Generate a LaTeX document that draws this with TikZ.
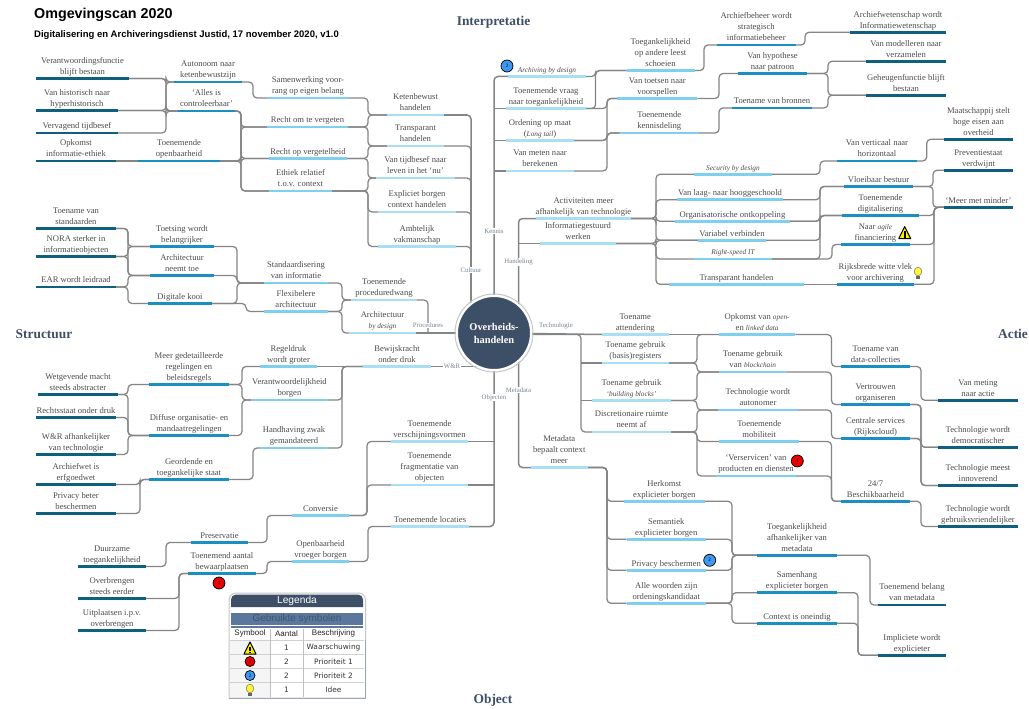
\documentclass[tikz,border=0pt]{standalone}
\usepackage{fontspec}
\setmainfont{Liberation Serif}
\newfontfamily\arial{Liberation Sans}
\newfontfamily\dejavu{DejaVu Sans}
\usetikzlibrary{backgrounds,calc}
\definecolor{ldark}{HTML}{0F5F7F}
\definecolor{lmid}{HTML}{1A8FC0}
\definecolor{llight}{HTML}{7FCFF0}
\definecolor{lpale}{HTML}{A8DFF5}
\definecolor{slate}{HTML}{3C4F66}
\definecolor{legblue}{HTML}{5C779C}
\definecolor{branch}{HTML}{858585}
\definecolor{markblue}{HTML}{3E97F0}
\definecolor{markred}{HTML}{E80000}
\tikzset{
  bar/.style={rectangle,inner sep=0pt,outer sep=0pt,minimum height=2.8pt},
  bdark/.style={bar,fill=ldark},
  bmid/.style={bar,fill=lmid},
  blight/.style={bar,fill=llight},
  bpale/.style={bar,fill=lpale},
  lbl/.style={align=center,inner sep=0.5pt,text depth=2pt,text=black!70,font=\fontsize{8.6}{11}\selectfont},
  conn/.style={draw=branch,line width=1.25pt,rounded corners=4pt},
  trunk/.style={draw=branch,line width=1.5pt,rounded corners=4pt},
  tag/.style={fill=white,inner sep=0.5pt,text=slate!70,font=\fontsize{6.8}{8}\selectfont},
  heading/.style={text=slate,font=\fontsize{13.4}{15}\selectfont\bfseries},
  redmark/.style={circle,draw=black,line width=0.7pt,fill=markred,minimum size=12pt,inner sep=0pt,font=\fontsize{5}{6}\selectfont},
  bluemark/.style={circle,draw=black,line width=0.7pt,fill=markblue,minimum size=12pt,inner sep=0pt,font=\fontsize{5}{6}\selectfont},
  legcell/.style={rectangle,inner sep=0pt,font=\dejavu\fontsize{7.4}{9}\selectfont,text=black!80},
  leghead/.style={rectangle,inner sep=0pt,font=\arial\fontsize{8}{10}\selectfont,text=black!85},
}
\newcommand\itl[1]{{\fontsize{7.3}{11}\selectfont\itshape #1}}
\newcommand\topic[6]{%
  \pgfmathsetmacro\tw{#3-#2}\pgfmathsetmacro\tc{(#2+#3)/2}%
  \node[#5,minimum width=\tw pt] (#1) at (\tc,#4) {};
  \node[lbl,anchor=south] (#1-t) at (#1.north) {#6};
}
\newcommand\lnk[3]{\draw[conn] (#1.east) -- (#3,0 |- #1.east) -- (#3,0 |- #2.west) -- (#2.west);}
\newcommand\straight[2]{\draw[conn] (#1.east) -- (#2.west);}
\newcommand\warnicon[2]{%
  \begin{scope}[shift={(#1,#2)}]
    \draw[fill=yellow!95!orange,draw=black,line width=1pt,line join=round] (-6,6) -- (0,-6) -- (6,6) -- cycle;
    \fill[black] (-0.9,-1.5) rectangle (0.9,2.8);
    \fill[black] (-0.9,3.6) rectangle (0.9,5);
  \end{scope}}
\newcommand\bulbicon[2]{%
  \begin{scope}[shift={(#1,#2)}]
    \fill[black!60] (-1.6,2.5) rectangle (1.6,6);
    \draw[fill=yellow!80!white,draw=black!55,line width=0.5pt] (0,-1.5) ellipse (3.8 and 4.4);
  \end{scope}}
\begin{document}
\begin{tikzpicture}[x=1pt,y=-1pt]
\begin{scope}[on background layer]
  \fill[white] (0,0) rectangle (1029,709);
\end{scope}
\useasboundingbox (0,0) rectangle (1029,709);

% Title
\node[anchor=west,inner sep=0pt,font=\arial\bfseries\fontsize{14.3}{16}\selectfont] (title) at (34,14.5) {Omgevingscan 2020};
\node[anchor=west,inner sep=0pt,font=\arial\bfseries\fontsize{9.5}{11}\selectfont] (subtitle) at (34,35) {Digitalisering en Archiveringsdienst Justid, 17 november 2020, v1.0};
\node[heading] (hI) at (493.5,22.5) {Interpretatie};
\node[heading] (hS) at (44,334) {Structuur};
\node[heading] (hA) at (1013,334) {Actie};
\node[heading] (hO) at (493,700) {Object};

% Centre
\node[circle,fill=slate,draw=white,line width=2pt,minimum size=74pt,inner sep=0pt,align=center,text=white,font=\fontsize{10.4}{13}\selectfont\bfseries] (c) at (494,333) {Overheids-\\handelen};
\node[circle,draw=gray!45,line width=1pt,minimum size=78pt,inner sep=0pt] (cring) at (494,333) {};

% ---- upper left: Cultuur
\topic{verant}{36}{129}{78.5}{bdark}{Verantwoordingsfunctie\\blijft bestaan}
\topic{hyper}{36}{118}{110.5}{bdark}{Van historisch naar\\hyperhistorisch}
\topic{vervag}{36}{118}{133}{bdark}{Vervagend tijdbesef}
\topic{opkomst}{36}{116}{161}{bdark}{Opkomst\\informatie-ethiek}
\topic{autonoom}{174}{242}{82}{bmid}{Autonoom naar\\ketenbewustzijn}
\topic{alles}{178}{235}{111}{bmid}{‘Alles is\\controleerbaar’}
\topic{openb}{138}{220}{161}{bmid}{Toenemende\\openbaarheid}
\topic{samenw}{267}{349}{98}{blight}{Samenwerking voor-\\rang op eigen belang}
\topic{rechtom}{267}{348}{127}{blight}{Recht om te vergeten}
\topic{rechtop}{269}{347}{158.5}{blight}{Recht op vergetelheid}
\topic{ethiek}{269}{332}{191}{blight}{Ethiek relatief\\t.o.v. context}
\topic{keten}{387}{444}{115}{bpale}{Ketenbewust\\handelen}
\topic{transp}{387}{444}{146}{bpale}{Transparant\\handelen}
\topic{tijdb}{376}{455}{178}{bpale}{Van tijdbesef naar\\leven in het ‘nu’}
\topic{explic}{378}{456}{212}{bpale}{Expliciet borgen\\context handelen}
\topic{ambt}{378}{456}{246.5}{bpale}{Ambtelijk\\vakmanschap}

% ---- left: Procedures
\topic{toename}{36}{116}{228.5}{bdark}{Toename van\\standaarden}
\topic{nora}{36}{116}{256.5}{bdark}{NORA sterker in\\informatieobjecten}
\topic{ear}{36}{116}{287}{bdark}{EAR wordt leidraad}
\topic{toets}{150}{214}{246.5}{bmid}{Toetsing wordt\\belangrijker}
\topic{archt}{150}{214}{275.5}{bmid}{Architectuur\\neemt toe}
\topic{kooi}{148}{212}{303.5}{bmid}{Digitale kooi}
\topic{stand}{264}{328}{283}{blight}{Standaardisering\\van informatie}
\topic{flex}{264}{328}{311.5}{blight}{Flexibelere\\architectuur}
\topic{proc}{351}{417}{300}{bpale}{Toenemende\\proceduredwang}
\topic{archd}{349}{416}{333}{bpale}{Architectuur\\\itl{by design}}

% ---- lower left: W&R
\topic{wetg}{38}{118}{394.5}{bdark}{Wetgevende macht\\steeds abstracter}
\topic{rstaat}{36}{116}{417.5}{bdark}{Rechtsstaat onder druk}
\topic{wr}{36}{116}{454.5}{bdark}{W\&R afhankelijker\\van technologie}
\topic{archw}{36}{116}{484.5}{bdark}{Archiefwet is\\erfgoedwet}
\topic{priv}{36}{116}{513.5}{bdark}{Privacy beter\\beschermen}
\topic{meer}{149}{229}{384.5}{bmid}{Meer gedetailleerde\\regelingen en\\beleidsregels}
\topic{diff}{149}{229}{435.5}{bmid}{Diffuse organisatie- en\\mandaatregelingen}
\topic{geord}{149}{229}{479.5}{bmid}{Geordende en\\toegankelijke staat}
\topic{regel}{260}{317}{366.5}{blight}{Regeldruk\\wordt groter}
\topic{veran}{251}{328}{400}{blight}{Verantwoordelijkheid\\borgen}
\topic{handh}{260}{328}{448}{blight}{Handhaving zwak\\gemandateerd}
\topic{bewijs}{363}{431}{366.5}{bpale}{Bewijskracht\\onder druk}

% ---- bottom left: Objecten
\topic{duurz}{78}{146}{566.5}{bdark}{Duurzame\\toegankelijkheid}
\topic{overb}{78}{146}{598.5}{bdark}{Overbrengen\\steeds eerder}
\topic{uitpl}{78}{146}{630.5}{bdark}{Uitplaatsen i.p.v.\\overbrengen}
\topic{pres}{191}{248}{542.5}{bmid}{Preservatie}
\topic{bewaar}{188}{256}{573.5}{bmid}{Toenemend aantal\\bewaarplaatsen}
\topic{conv}{292}{349}{515.5}{blight}{Conversie}
\topic{vroeg}{292}{349}{561.5}{blight}{Openbaarheid\\vroeger borgen}
\topic{versch}{391}{468}{441.5}{bpale}{Toenemende\\verschijningsvormen}
\topic{fragm}{391}{468}{485}{bpale}{Toenemende\\fragmentatie van\\objecten}
\topic{locat}{391}{469}{526.5}{bpale}{Toenemende locaties}

% ---- upper right: Kennis
\topic{archd2}{508}{586}{76.5}{bpale}{\itl{Archiving by design}}
\topic{vraag}{506}{586}{108.5}{bpale}{Toenemende vraag\\naar toegankelijkheid}
\topic{orden}{506}{574}{140.5}{bpale}{Ordening op maat\\(\itl{Long tail})}
\topic{meten}{506}{574}{171}{bpale}{Van meten naar\\berekenen}
\topic{leest}{626.5}{694.5}{70.5}{blight}{Toegankelijkheid\\op andere leest\\schoeien}
\topic{voorsp}{617.4}{697.3}{98.5}{blight}{Van toetsen naar\\voorspellen}
\topic{kennis}{619.5}{699}{133}{blight}{Toenemende\\kennisdeling}
\topic{beheer}{717}{795.5}{45}{bmid}{Archiefbeheer wordt\\strategisch\\informatiebeheer}
\topic{hypo}{738}{807}{73.5}{bmid}{Van hypothese\\naar patroon}
\topic{bronn}{732}{812}{108}{bmid}{Toename van bronnen}
\topic{infow}{850}{946}{32.3}{bdark}{Archiefwetenschap wordt\\Informatiewetenschap}
\topic{model}{866}{946}{61.3}{bdark}{Van modelleren naar\\verzamelen}
\topic{geheug}{866}{946}{95.3}{bdark}{Geheugenfunctie blijft\\bestaan}

% ---- right: Handeling
\topic{activ}{536}{631}{218.5}{bpale}{Activiteiten meer\\afhankelijk van technologie}
\topic{infog}{540}{616}{243.5}{bpale}{Informatiegestuurd\\werken}
\topic{secur}{694}{772}{174.3}{blight}{\itl{Security by design}}
\topic{laag}{677}{783}{199.7}{blight}{Van laag- naar hooggeschoold}
\topic{ontk}{675}{790}{221.3}{blight}{Organisatorische ontkoppeling}
\topic{varb}{698}{766}{240.3}{blight}{Variabel verbinden}
\topic{rspeed}{694}{772}{259}{blight}{\itl{Right-speed IT}}
\topic{transh}{669}{804}{284.3}{blight}{Transparant handelen}
\topic{vertic}{837}{917}{161}{bmid}{Van verticaal naar\\horizontaal}
\topic{vloei}{844}{913}{186.5}{bmid}{Vloeibaar bestuur}
\topic{digit}{842}{919}{215.5}{bmid}{Toenemende\\digitalisering}
\topic{agile}{841}{910}{244.5}{bmid}{Naar \itl{agile}\\financiering}
\topic{rijks}{837}{914}{284.3}{bmid}{Rijksbrede witte vlek\\voor archivering}
\topic{maats}{944}{1013}{139.3}{bdark}{Maatschappij stelt\\hoge eisen aan\\overheid}
\topic{prevent}{944}{1013}{170.3}{bdark}{Preventiestaat\\verdwijnt}
\topic{minder}{944}{1013}{207.3}{bdark}{‘Meer met minder’}

% ---- lower right: Technologie
\topic{attend}{602}{668.5}{334.5}{bpale}{Toename\\attendering}
\topic{regist}{602}{669}{363}{bpale}{Toename gebruik\\(basis)registers}
\topic{build}{592}{671}{400.5}{bpale}{Toename gebruik\\\itl{‘building blocks’}}
\topic{discr}{592}{671}{432}{bpale}{Discretionaire ruimte\\neemt af}
\topic{linked}{719}{795.3}{334.5}{blight}{Opkomst van \itl{open-}\\en \itl{linked data}}
\topic{block}{719}{786.5}{372}{blight}{Toename gebruik\\van \itl{blockchain}}
\topic{auton}{718}{798}{410}{blight}{Technologie wordt\\autonomer}
\topic{mobil}{719.4}{799}{441.5}{blight}{Toenemende\\mobiliteit}
\topic{servic}{716}{796}{476}{blight}{‘Verservicen’ van\\producten en diensten}
\topic{datac}{841.3}{910}{366.5}{bmid}{Toename van\\data-collecties}
\topic{vertr}{841.3}{910}{404.5}{bmid}{Vertrouwen\\organiseren}
\topic{centr}{841}{910}{438.5}{bmid}{Centrale services\\(Rijkscloud)}
\topic{beschik}{841}{910}{501.3}{bmid}{24/7\\Beschikbaarheid}
\topic{actie}{938}{1018}{400.3}{bdark}{Van meting\\naar actie}
\topic{democ}{938}{1018}{447.3}{bdark}{Technologie wordt\\democratischer}
\topic{innov}{938}{1018}{485.5}{bdark}{Technologie meest\\innoverend}
\topic{gebr}{938}{1018}{526.5}{bdark}{Technologie wordt\\gebruiksvriendelijker}

% ---- lower right: Metadata
\topic{metad}{531}{587.5}{467.5}{bpale}{Metadata\\bepaalt context\\meer}
\topic{herk}{624}{704.6}{501.3}{blight}{Herkomst\\explicieter borgen}
\topic{seman}{626.5}{706}{539.3}{blight}{Semantiek\\explicieter borgen}
\topic{privb}{626.5}{706}{570.3}{blight}{Privacy beschermen}
\topic{woord}{626.5}{706}{603.3}{blight}{Alle woorden zijn\\ordeningskandidaat}
\topic{afhank}{757}{837}{555.3}{bmid}{Toegankelijkheid\\afhankelijker van\\metadata}
\topic{samenh}{757}{837}{592.7}{bmid}{Samenhang\\explicieter borgen}
\topic{oneind}{757}{837}{623.3}{bmid}{Context is oneindig}
\topic{belang}{878}{946}{605}{bdark}{Toenemend belang\\van metadata}
\topic{implic}{878}{946}{655.3}{bdark}{Impliciete wordt\\explicieter}

% ---- connectors
\begin{scope}[on background layer]
  % Cultuur
  \lnk{verant}{autonoom}{166}\lnk{verant}{alles}{166}\lnk{hyper}{autonoom}{166}\lnk{hyper}{alles}{166}\lnk{vervag}{alles}{166}
  \straight{opkomst}{openb}
  \lnk{autonoom}{samenw}{253}
  \lnk{alles}{rechtom}{241}\lnk{alles}{rechtop}{241}\lnk{alles}{ethiek}{241}
  \lnk{openb}{rechtom}{241}\lnk{openb}{rechtop}{241}\lnk{openb}{ethiek}{241}
  \lnk{samenw}{keten}{368}\lnk{rechtom}{keten}{368}\lnk{rechtom}{transp}{368}
  \lnk{rechtop}{transp}{368}\lnk{rechtop}{tijdb}{368}
  \lnk{ethiek}{tijdb}{368}\lnk{ethiek}{explic}{368}\lnk{ethiek}{ambt}{368}
  \draw[trunk] (keten.east) -- (471,0 |- keten.east) -- ([xshift=-23pt]c.center);
  \lnk{transp}{cring}{471}\lnk{tijdb}{cring}{471}\lnk{explic}{cring}{471}\lnk{ambt}{cring}{471}
  % Procedures
  \lnk{toename}{toets}{128}\lnk{toename}{archt}{128}\lnk{nora}{toets}{128}\lnk{nora}{archt}{128}
  \lnk{ear}{archt}{128}\lnk{ear}{kooi}{128}
  \lnk{toets}{stand}{237}\lnk{archt}{stand}{237}\lnk{kooi}{stand}{237}\lnk{kooi}{flex}{246}
  \lnk{stand}{proc}{342}\lnk{flex}{proc}{342}\lnk{flex}{archd}{342}
  \draw[conn] (proc.east) -- (428,0 |- proc.east) -- (428,0 |- archd.east);
  \draw[trunk] (archd.east) -- (c.center);
  % W&R
  \lnk{wetg}{meer}{128}\lnk{wetg}{diff}{128}\lnk{rstaat}{diff}{128}\lnk{wr}{diff}{128}
  \lnk{meer}{regel}{242}\lnk{meer}{veran}{242}\lnk{diff}{veran}{242}
  \straight{regel}{bewijs}
  \lnk{veran}{bewijs}{342}\lnk{handh}{bewijs}{342}
  \lnk{archw}{geord}{140}\lnk{priv}{geord}{140}
  \lnk{geord}{handh}{253}
  \draw[conn] (bewijs.east) -- (c.center |- bewijs.east);
  % Objecten
  \lnk{duurz}{pres}{166}\lnk{pres}{conv}{267}
  \lnk{conv}{versch}{367}\lnk{conv}{fragm}{367}
  \lnk{overb}{bewaar}{179}\lnk{uitpl}{bewaar}{179}
  \lnk{bewaar}{vroeg}{267}\lnk{vroeg}{locat}{368}
  \draw[trunk] (locat.east) -- (c.center |- locat.east) -- (c.center);
  \draw[conn] (versch.east) -- (c.center |- versch.east);
  \draw[conn] (fragm.east) -- (c.center |- fragm.east);
  % Kennis
  \draw[trunk] (archd2.west) -- (c.center |- archd2.west) -- (c.center);
  \draw[conn] (vraag.west) -- (c.center |- vraag.west);
  \draw[conn] (orden.west) -- (c.center |- orden.west);
  \draw[conn] (meten.west) -- (c.center |- meten.west);
  \lnk{archd2}{leest}{595.6}\lnk{vraag}{leest}{595.6}
  \lnk{vraag}{voorsp}{607}\lnk{orden}{voorsp}{607}\lnk{orden}{kennis}{607}\lnk{meten}{kennis}{607}
  \lnk{leest}{beheer}{704}\lnk{voorsp}{hypo}{719}\lnk{kennis}{bronn}{719}
  \lnk{beheer}{infow}{805}\lnk{hypo}{model}{828}\lnk{hypo}{geheug}{828}\lnk{bronn}{geheug}{828}
  % Handeling
  \draw[trunk] (activ.west) -- ([xshift=24.5pt]c.center |- activ.west) -- ([xshift=24.5pt]c.center);
  \draw[conn] (infog.west) -- ([xshift=24.5pt]c.center |- infog.west);
  \lnk{activ}{secur}{656}\lnk{activ}{laag}{656}\lnk{activ}{ontk}{656}\lnk{activ}{varb}{656}
  \lnk{infog}{varb}{656}\lnk{infog}{rspeed}{656}\lnk{infog}{transh}{656}
  \lnk{secur}{vertic}{820}\lnk{laag}{vloei}{820}\lnk{ontk}{vloei}{820}\lnk{ontk}{digit}{820}
  \lnk{varb}{digit}{820}\lnk{rspeed}{digit}{820}\lnk{rspeed}{agile}{832}
  \straight{transh}{rijks}
  \lnk{vertic}{maats}{926.7}\lnk{vloei}{prevent}{933}\lnk{vloei}{minder}{933}
  \lnk{digit}{minder}{934}\lnk{agile}{minder}{934}\lnk{rijks}{minder}{934}
  % Technologie
  \draw[trunk] (c.center) -- (attend.west);
  \draw[conn] (c.center |- attend.west) -- (581,0 |- attend.west) -- (581,0 |- discr.west) -- (discr.west);
  \draw[conn] (581,0 |- regist.west) -- (regist.west);
  \draw[conn] (581,0 |- build.west) -- (build.west);
  \straight{attend}{linked}
  \lnk{regist}{linked}{697}\lnk{regist}{block}{697}\lnk{build}{block}{697}\lnk{build}{auton}{697}
  \lnk{discr}{auton}{697}\lnk{discr}{mobil}{697}\lnk{discr}{servic}{697}
  \lnk{linked}{datac}{831.5}\lnk{block}{vertr}{831.5}\lnk{auton}{centr}{831.5}
  \lnk{mobil}{beschik}{831.5}\lnk{servic}{beschik}{831.5}
  \lnk{datac}{actie}{921}\lnk{vertr}{democ}{921}\lnk{vertr}{innov}{921}
  \lnk{centr}{democ}{921}\lnk{centr}{innov}{921}\lnk{beschik}{gebr}{921}
  % Metadata
  \draw[trunk] ([xshift=24.5pt]c.center) -- ([xshift=24.5pt]c.center |- metad.west) -- (metad.west);
  \lnk{metad}{herk}{607}\lnk{metad}{seman}{607}\lnk{metad}{privb}{607}\lnk{metad}{woord}{607}
  \lnk{herk}{afhank}{732}\lnk{seman}{afhank}{732}\lnk{privb}{afhank}{732}\lnk{woord}{afhank}{732}
  \lnk{woord}{samenh}{732}\lnk{woord}{oneind}{732}
  \lnk{afhank}{belang}{870}\lnk{samenh}{implic}{858}\lnk{oneind}{implic}{858}
\end{scope}

% ---- branch tags
\node[tag] (tCult) at (471,270) {Cultuur};
\node[tag] (tKenn) at (494,231) {Kennis};
\node[tag] (tHand) at (518.5,262) {Handeling};
\node[tag] (tProc) at (428,325.5) {Procedures};
\node[tag] (tTech) at (556,325.7) {Technologie};
\node[tag] (tWR) at (452,366.5) {W\&R};
\node[tag] (tMeta) at (518.5,389.7) {Metadata};
\node[tag] (tObj) at (494,397.7) {Objecten};

% ---- markers
\node[bluemark] (m2a) at (507,66) {2};
\node[redmark] (m1a) at (219,583) {1};
\node[redmark] (m1b) at (797.3,461) {1};
\node[bluemark] (m2b) at (709.7,560.3) {2};
\warnicon{904.7}{232.7}
\bulbicon{918}{273}

% ---- legend
\draw[gray!45,line width=1pt,fill=white] (229,698) -- (229,600) [rounded corners=7pt] -- (229,593) -- (365.5,593) [sharp corners] -- (365.5,698) -- cycle;
\draw[slate!50,line width=1pt] (229,698) -- (365.5,698) -- (365.5,640);
\fill[slate] (231,607) [rounded corners=5pt] -- (231,594.5) -- (363,594.5) [sharp corners] -- (363,607) -- cycle;
\node[inner sep=0pt,text=white,font=\arial\fontsize{10.2}{12}\selectfont] (legT) at (297,601.3) {Legenda};
\fill[legblue] (231,613) rectangle (363,624.5);
\node[inner sep=0pt,text=slate!85!legblue,font=\arial\fontsize{10}{12}\selectfont] (legS) at (297,619) {Gebruikte symbolen};
\fill[legblue] (231,626) rectangle (363,627.6);
\fill[black!4] (230,641) rectangle (270,697);
\foreach \yy in {640.5,654.5,668.5,682.5} {\draw[black!18,line width=0.7pt] (230,\yy) -- (364,\yy);}
\foreach \xx in {270.5,303.5} {\draw[black!25,line width=0.7pt] (\xx,629) -- (\xx,697);}
\node[leghead] (h1) at (250,633.5) {Symbool};
\node[leghead] (h2) at (286.5,633.5) {Aantal};
\node[leghead] (h3) at (333.5,633.5) {Beschrijving};
\warnicon{250}{648}
\node[redmark,minimum size=10pt] (lr) at (250,661.5) {1};
\node[bluemark,minimum size=10pt] (lb) at (250,675.5) {2};
\bulbicon{250}{690}
\node[legcell] (c1) at (286.5,647.5) {1};
\node[legcell] (c2) at (286.5,661.5) {2};
\node[legcell] (c3) at (286.5,675.5) {2};
\node[legcell] (c4) at (286.5,689.5) {1};
\node[legcell] (d1) at (333.5,647.5) {Waarschuwing};
\node[legcell] (d2) at (333.5,661.5) {Prioriteit 1};
\node[legcell] (d3) at (333.5,675.5) {Prioriteit 2};
\node[legcell] (d4) at (333.5,689.5) {Idee};
\end{tikzpicture}
\end{document}
